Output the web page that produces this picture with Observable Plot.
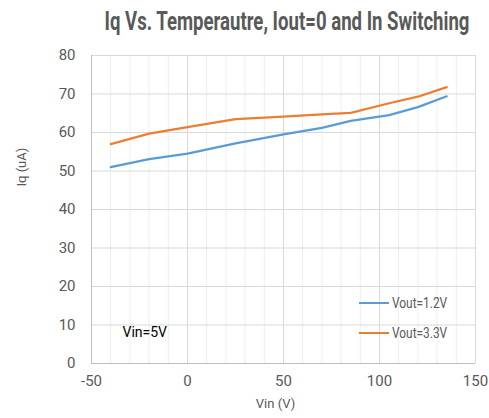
<!DOCTYPE html>
<html><head><meta charset="utf-8">
<script src="https://cdn.jsdelivr.net/npm/d3@7"></script>
<script src="https://cdn.jsdelivr.net/npm/@observablehq/plot@0.6"></script>
<style>
body{margin:0;background:#fff;font-family:Roboto,sans-serif;}
#wrap{position:relative;width:489px;height:418px;overflow:hidden;}
#titlebox{height:40px;position:relative;}
#title{position:absolute;left:287px;top:7px;white-space:nowrap;font-weight:bold;font-size:25px;line-height:30px;color:#595959;transform-origin:0 0;}
.leg{position:absolute;font-size:14px;color:#595959;display:flex;align-items:center;white-space:nowrap;}
.sw{width:30px;height:0;border-top:2.25px solid;margin-right:3px;}
.lt{display:inline-block;transform:scaleX(0.85);transform-origin:0 50%;}
</style></head>
<body><div id="wrap"><div id="titlebox"><span id="title">Iq Vs. Temperautre, Iout=0 and In Switching</span></div><div id="chart"></div>
<div class="leg" style="left:359px;top:295px"><div class="sw" style="border-color:#5B9BD5"></div><span class="lt">Vout=1.2V</span></div>
<div class="leg" style="left:359px;top:325px"><div class="sw" style="border-color:#ED7D31"></div><span class="lt">Vout=3.3V</span></div>
</div>
<script>
const temps = [-40, -20, 0, 25, 50, 70, 85, 105, 120, 135];
const iq12 = [51.0, 53.1, 54.5, 57.2, 59.5, 61.2, 63.0, 64.5, 66.6, 69.4];
const iq33 = [57.0, 59.7, 61.4, 63.5, 64.1, 64.7, 65.1, 67.6, 69.3, 71.8];
const seriesNames = ["Vout=1.2V", "Vout=3.3V"];
const colors = ["#5B9BD5", "#ED7D31"];
const xTicks = [-50, 0, 50, 100, 150];
const xMinor = d3.range(-50, 151, 10);
const yTicks = [0, 10, 20, 30, 40, 50, 60, 70, 80];

// fit the title to its width
const title = document.getElementById("title");
const tw = title.getBoundingClientRect().width;
const s = 365 / tw;
title.style.transform = `scaleX(${s}) translateX(-50%)`;

const data = [];
temps.forEach((t, i) => {
  data.push({t, v: iq12[i], s: seriesNames[0]});
  data.push({t, v: iq33[i], s: seriesNames[1]});
});

const chart = Plot.plot({
  width: 489, height: 378,
  marginTop: 15, marginBottom: 55, marginLeft: 91, marginRight: 14,
  style: {fontFamily: 'Roboto,sans-serif', fontSize: "14px", color: "#595959"},
  x: {domain: [-50, 150], ticks: xTicks, tickSize: 0, tickPadding: 10, label: null},
  y: {domain: [0, 80], ticks: yTicks, tickSize: 0, tickPadding: 14, label: null},
  color: {domain: seriesNames, range: colors},
  marks: [
    Plot.ruleX(xMinor, {stroke: "#EEEEEE", strokeWidth: 1}),
    Plot.ruleX(xTicks, {stroke: "#D9D9D9", strokeWidth: 1}),
    Plot.ruleY(yTicks, {stroke: "#D9D9D9", strokeWidth: 1}),
    Plot.ruleX([-50], {stroke: "#BFBFBF", strokeWidth: 1}),
    Plot.ruleY([0], {stroke: "#BFBFBF", strokeWidth: 1}),
    Plot.axisX({ticks: xTicks, tickSize: 0, tickPadding: 12, fontSize: 15, label: null, tickFormat: d => String(d)}),
    Plot.axisY({ticks: yTicks, tickSize: 0, tickPadding: 16, fontSize: 15, label: null}),
    Plot.line(data, {x: "t", y: "v", z: "s", stroke: "s", strokeWidth: 2.25}),
    Plot.text(["Vin=5V"], {frameAnchor: "bottom-left", dx: 31, dy: -27, fill: "#000", fontSize: 14, textAnchor: "start"}),
    Plot.text(["Vin (V)"], {frameAnchor: "bottom", dx: -8, dy: 44, fontSize: 13, fill: "#595959"}),
    Plot.text(["Iq (uA)"], {frameAnchor: "left", dx: -70, dy: -23, rotate: -90, fontSize: 13, fill: "#595959"})
  ]
});
document.getElementById("chart").appendChild(chart);
</script></body></html>
